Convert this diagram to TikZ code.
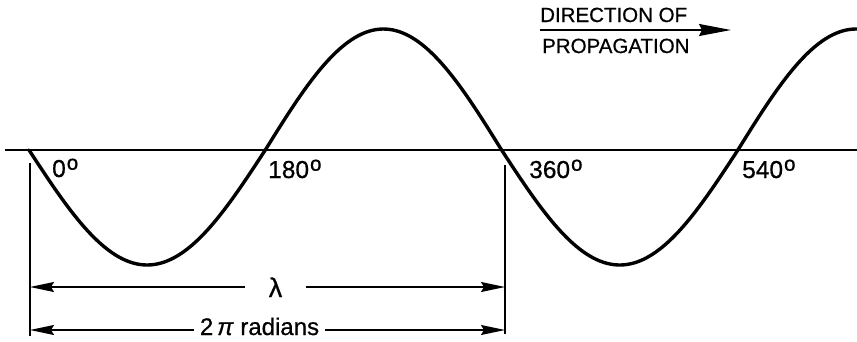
\documentclass[tikz,border=0pt]{standalone}
\usepackage{fontspec}
\setmainfont{Liberation Sans}
\newfontfamily\lblfont[FakeBold=0.7]{Liberation Sans}
\newcommand{\degsym}{\kern1pt\raisebox{7.3pt}{\fontsize{20.5}{20}\selectfont o}}
\usetikzlibrary{arrows.meta}
\begin{document}
\begin{tikzpicture}[x=1pt,y=-1pt,
  wave/.style={line width=3.4pt, line cap=round, line join=round},
  axis/.style={line width=1.5pt},
  dimline/.style={line width=1.4pt},
  dimarrow/.style={line width=1.4pt, -{Stealth[length=24pt,width=10pt,inset=3pt]}},
  deglabel/.style={anchor=base west, inner sep=0pt, font=\lblfont\fontsize{24.5}{24}\selectfont},
  dirlabel/.style={anchor=base west, inner sep=0pt, font=\lblfont\fontsize{20.5}{20}\selectfont},
  dimlabel/.style={anchor=base, inner ysep=0pt, font=\lblfont\fontsize{24}{24}\selectfont}]
\useasboundingbox (0,0) rectangle (857,341);
% axis
\coordinate (axL) at (5,150);
\coordinate (axR) at (857,150);
\draw[axis] (axL) -- (axR);
% wave
\draw[wave] plot[domain=29:857, samples=240, smooth]
  (\x, {150 + (sin((\x-29)/236.3*180) > 0 ? 115 : 121)*sin((\x-29)/236.3*180)});
% degree labels
\node[deglabel] (d0) at (52,177) {0\degsym};
\node[deglabel] (d180) at (268,178) {180\degsym};
\node[deglabel] (d360) at (529,178) {360\degsym};
\node[deglabel] (d540) at (742,178) {540\degsym};
% vertical reference lines
\coordinate (vLt) at (30,163);
\coordinate (vLb) at (30,336);
\coordinate (vRt) at (505,165);
\coordinate (vRb) at (505,334);
\draw[dimline] (vLt) -- (vLb);
\draw[dimline] (vRt) -- (vRb);
% lambda dimension
\coordinate (L1) at (30,287);
\coordinate (R1) at (505,287);
\node[dimlabel, inner xsep=24pt, font=\lblfont\fontsize{27}{27}\selectfont] (lam) at (275.5,297) {λ};
\draw[dimarrow] (lam.west |- L1) -- (L1);
\draw[dimarrow] (lam.east |- R1) -- (R1);
% 2 pi radians dimension
\coordinate (L2) at (30,330);
\coordinate (R2) at (505,330);
\node[dimlabel, inner xsep=6pt] (rad) at (259.5,335) {2\,\textit{π} radians};
\draw[dimarrow] (rad.west |- L2) -- (L2);
\draw[dimarrow] (rad.east |- R2) -- (R2);
% direction of propagation
\node[dirlabel] (dir1) at (540,22) {DIRECTION OF};
\node[dirlabel] (dir2) at (542,53) {PROPAGATION};
\coordinate (dirS) at (540,30);
\coordinate (dirE) at (731,30);
\draw[line width=1.8pt, -{Stealth[length=32pt,width=12pt,inset=3pt]}] (dirS) -- (dirE);
\end{tikzpicture}
\end{document}
